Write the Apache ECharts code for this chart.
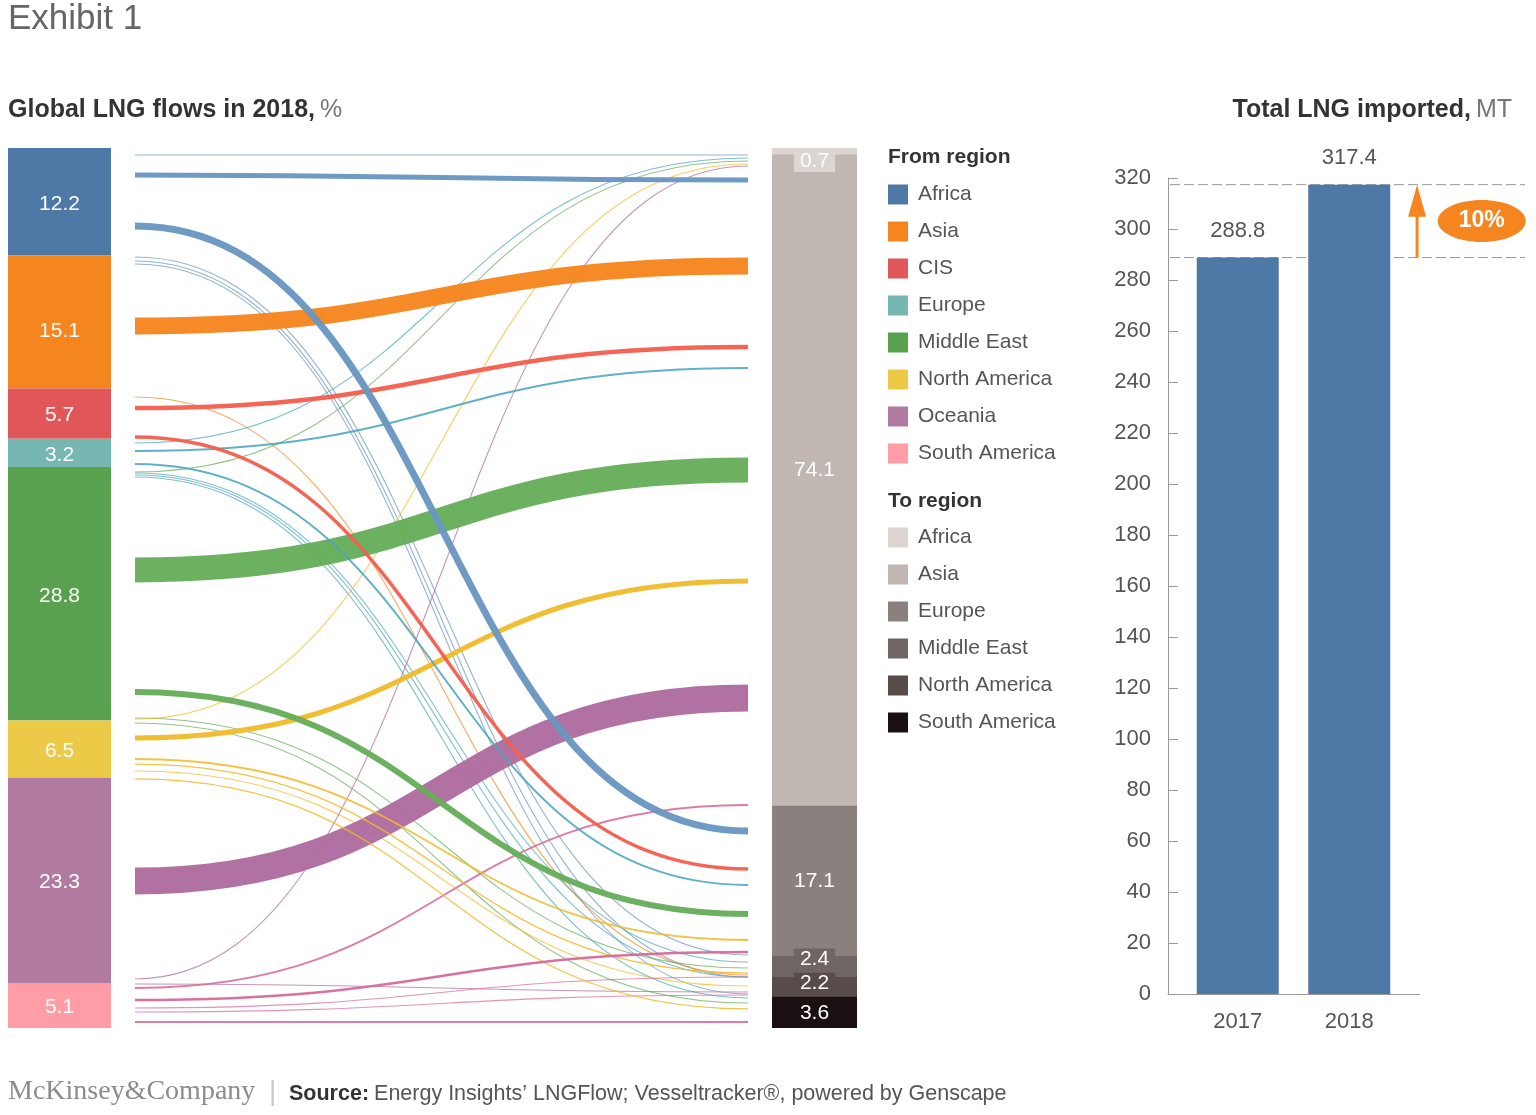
<!DOCTYPE html>
<html>
<head>
<meta charset="utf-8">
<script src="https://cdn.jsdelivr.net/npm/echarts@6/dist/echarts.min.js"></script>
<style>
html,body{margin:0;padding:0;background:#fff;}
#chart{width:1536px;height:1115px;}
</style>
</head>
<body>
<div id="chart"></div>
<script>
// ---------- DATA ----------
const fromRegions = ['Africa','Asia','CIS','Europe','Middle East','North America','Oceania','South America'];
const fromShares  = [12.2, 15.1, 5.7, 3.2, 28.8, 6.5, 23.3, 5.1];
const toRegions   = ['Africa','Asia','Europe','Middle East','North America','South America'];
const toShares    = [0.7, 74.1, 17.1, 2.4, 2.2, 3.6];

// flows: source index, destination index, share of global flow (%),
// attach position on the left / right stacked scale (0-100, from top)
const flowFrom     = [0,0,0,0,0,0, 1,1, 2,2, 3,3,3,3,3,3, 4,4,4,4,4, 5,5,5,5,5,5, 6,6,6, 7,7,7,7,7];
const flowTo       = [0,1,2,3,4,5, 1,3, 1,2, 0,1,2,3,4,5, 0,1,2,3,5, 0,1,2,3,4,5, 0,1,4, 1,2,3,4,5];
const flowValue    = [0.3,4.0,5.6,0.6,0.4,0.5, 13.5,0.5, 3.5,2.8, 0.3,1.6,1.6,0.4,0.3,0.3,
                      0.3,20.0,4.8,0.8,0.5, 0.3,4.0,1.5,1.0,0.8,1.0, 0.3,21.5,0.4, 1.5,2.0,0.6,0.9,1.5];
const flowStartPos = [0.8,3.07,8.86,12.39,12.84,13.18, 20.23,28.3, 29.55,32.84,
                      33.52,34.43,35.91,36.93,37.16,37.39,
                      36.82,47.95,61.82,64.77,65.34,
                      64.89,67.05,69.43,70.0,70.8,71.7,
                      94.43,83.3,95.0,
                      95.45,96.82,97.73,98.18,99.32];
const flowEndPos   = [0.8,3.64,77.61,91.7,94.2,96.14, 13.41,93.98, 22.61,81.93,
                      1.14,25.0,83.75,92.5,94.2,96.59,
                      1.48,36.59,87.05,93.18,97.16,
                      1.82,49.2,90.0,93.75,95.23,97.84,
                      2.05,62.5,95.91,
                      74.66,91.36,94.2,96.25,99.32];

const importYears  = ['2017','2018'];
const importTotals = [288.8, 317.4];

// ---------- STYLE ----------
const FONT = '"Liberation Sans", Arial, Helvetica, sans-serif';
const fromColors = ['#4e79a7','#f5861f','#e15759','#76b7b2','#59a14f','#edc948','#b07aa1','#ff9da7'];
const lineColors = ['#6a97c1','#f5861f','#f4604f','#4aa6bb','#66ae5a','#f1bb2b','#ae6c9f','#d86b9b'];
const toColors   = ['#dcd5d2','#c0b7b3','#8a817e','#6f6563','#574c49','#1a1012'];

const toLabelCfg = [
  {position:'insideTop', distance:2, backgroundColor:'#dcd5d2', padding:[1,6,0,6]},
  {position:'inside', offset:[0,-10]},
  {position:'inside'},
  {position:'inside', offset:[0,-7], backgroundColor:'#6f6563', padding:[1,6,0,6]},
  {position:'inside', offset:[0,-3], backgroundColor:'#574c49', padding:[1,6,0,6]},
  {position:'inside', offset:[0,1]}
];

// flow items; draw thin first, then Asia-bound, then other thick flows on top
const flowItems = flowFrom.map((f,i)=>[flowStartPos[i], flowEndPos[i], flowValue[i], f, flowTo[i]]);
const rank = it => (it[2] < 1 ? 0 : (it[4] === 1 ? 1 : 2));
flowItems.sort((a,b)=> rank(a)-rank(b));

const chart = echarts.init(document.getElementById('chart'));

const leftSeries = fromRegions.map((name,i)=>({
  type:'bar', name, xAxisIndex:0, yAxisIndex:0, stack:'from', barWidth:'100%',
  data:[fromShares[i]], itemStyle:{color:fromColors[i]}, silent:true,
  label:{show:true, position:'inside', offset: i===1?[0,9]:[0,2], color:'#fff', fontSize:21, fontFamily:FONT,
         formatter:p=>p.value.toFixed(1)}
}));
const rightSeries = toRegions.map((name,i)=>({
  type:'bar', name:'to:'+name, xAxisIndex:1, yAxisIndex:1, stack:'to', barWidth:'100%',
  data:[toShares[i]], itemStyle:{color:toColors[i]}, silent:true,
  label:Object.assign({show:true, color:'#fff', fontSize:21, fontFamily:FONT, formatter:p=>p.value.toFixed(1)}, toLabelCfg[i])
}));

const flowSeries = {
  type:'custom', name:'flows', xAxisIndex:2, yAxisIndex:2, silent:true, clip:false,
  data: flowItems,
  renderItem:(params, api)=>{
    const s = api.coord([0, api.value(0)]);
    const e = api.coord([1, api.value(1)]);
    const v = api.value(2), f = api.value(3);
    const mx = (s[0]+e[0])/2;
    return {
      type:'bezierCurve',
      shape:{x1:s[0], y1:s[1], x2:e[0], y2:e[1], cpx1:mx, cpy1:s[1], cpx2:mx, cpy2:e[1]},
      style:{stroke:lineColors[f], lineWidth:Math.max(1.1, v*1.25), fill:'none',
             opacity: v < 1 ? 0.72 : (v < 2 ? 0.88 : 0.97)}
    };
  }
};

const importSeries = {
  type:'bar', name:'Total LNG imported', xAxisIndex:3, yAxisIndex:3, barWidth:82, silent:true,
  data: importTotals, itemStyle:{color:'#4e79a7'},
  label:{show:true, position:'top', distance:16, fontSize:22, color:'#555', fontFamily:FONT,
         formatter:p=>p.value.toFixed(1)}
};

const growth = Math.round((importTotals[1]/importTotals[0]-1)*100) + '%';
const annotationSeries = {
  type:'custom', name:'growth', xAxisIndex:5, yAxisIndex:5, silent:true, clip:false,
  data:[[0.5, (importTotals[0]+importTotals[1])/2]],
  renderItem:(params, api)=>{
    const a = api.coord([0, importTotals[0]]), b = api.coord([1, importTotals[0]]);
    const c = api.coord([0, importTotals[1]]), d = api.coord([1, importTotals[1]]);
    const ax = api.coord([0.696, 0])[0];
    const yLow = a[1], yHigh = c[1];
    const el = api.coord([0.878, api.value(1)]);
    const dash = {stroke:'#9a9a9a', lineWidth:1, lineDash:[10,4]};
    return {type:'group', children:[
      {type:'line', shape:{x1:a[0], y1:a[1], x2:b[0], y2:b[1]}, style:dash},
      {type:'line', shape:{x1:c[0], y1:c[1], x2:d[0], y2:d[1]}, style:dash},
      {type:'line', shape:{x1:ax, y1:yLow, x2:ax, y2:yHigh+30}, style:{stroke:'#f5861f', lineWidth:3}},
      {type:'polygon', shape:{points:[[ax-9,yHigh+32],[ax+9,yHigh+32],[ax,yHigh]]}, style:{fill:'#f5861f'}},
      {type:'ellipse', shape:{cx:el[0], cy:el[1], rx:44, ry:21}, style:{fill:'#f5861f'}},
      {type:'text', x:el[0], y:el[1], style:{text:growth, fill:'#fff', font:'bold 23px '+FONT, align:'center', verticalAlign:'middle'}}
    ]};
  }
};

const hiddenVal = (min,max,extra)=>Object.assign({type:'value', min, max, show:false}, extra||{});
const richTitle = {
  b:{fontSize:25, fontWeight:'bold', color:'#333', fontFamily:FONT},
  n:{fontSize:25, fontWeight:'normal', color:'#777', fontFamily:FONT}
};

const option = {
  animation:false,
  textStyle:{fontFamily:FONT},
  title:[
    {text:'Exhibit 1', left:8, top:2, padding:0, textStyle:{fontSize:35, fontWeight:'normal', color:'#666', fontFamily:FONT}},
    {text:'{b|Global LNG flows in 2018,} {n|%}', left:8, top:98, padding:0,
     textStyle:{fontWeight:'normal', rich:richTitle}},
    {text:'{b|Total LNG imported,} {n|MT}', right:24, top:98, padding:0,
     textStyle:{fontWeight:'normal', rich:richTitle}},
    {text:'From region', left:888, top:147, padding:0, textStyle:{fontSize:21, fontWeight:'bold', color:'#333', fontFamily:FONT}},
    {text:'To region', left:888, top:491, padding:0, textStyle:{fontSize:21, fontWeight:'bold', color:'#333', fontFamily:FONT}},
    {text:'McKinsey&Company', left:8, top:1078, padding:0, textStyle:{fontSize:28, fontWeight:'normal', color:'#8c8c8c', fontFamily:'"Liberation Serif", "DejaVu Serif", serif'}},
    {text:'|', left:269, top:1078, padding:0, textStyle:{fontSize:28, fontWeight:'normal', color:'#c8c8c8', fontFamily:FONT}},
    {text:'{b|Source:} {n|Energy Insights\u2019 LNGFlow; Vesseltracker\u00ae, powered by Genscape}', left:289, top:1083, padding:0,
     textStyle:{fontWeight:'normal', rich:{b:{fontSize:21.5, fontWeight:'bold', color:'#333', fontFamily:FONT}, n:{fontSize:21.5, fontWeight:'normal', color:'#555', fontFamily:FONT}}}}
  ],
  legend:[
    {data:fromRegions, orient:'vertical', left:888, top:184, padding:0, itemWidth:20, itemHeight:20, itemGap:16,
     icon:'rect', selectedMode:false, textStyle:{fontSize:21, color:'#555', fontFamily:FONT, padding:[0,0,0,5]}},
    {data:toRegions.map(n=>'to:'+n), formatter:n=>n.slice(3), orient:'vertical', left:888, top:527, padding:0,
     itemWidth:20, itemHeight:20, itemGap:16, icon:'rect', selectedMode:false,
     textStyle:{fontSize:21, color:'#555', fontFamily:FONT, padding:[0,0,0,5]}}
  ],
  grid:[
    {left:8,    width:103, top:148, height:880},
    {left:772,  width:85,  top:148, height:880},
    {left:135,  width:613, top:148, height:880},
    {left:1182, width:223, top:178, height:816},
    {left:1168, width:252, top:178, height:816},
    {left:1170, width:355, top:178, height:816}
  ],
  xAxis:[
    {type:'category', gridIndex:0, data:['From'], show:false},
    {type:'category', gridIndex:1, data:['To'], show:false},
    hiddenVal(0,1,{gridIndex:2}),
    {type:'category', gridIndex:3, data:importYears,
     axisLine:{show:false}, axisTick:{show:false},
     axisLabel:{margin:17, fontSize:22, color:'#555', fontFamily:FONT}},
    {type:'value', gridIndex:4, min:0, max:1, axisLine:{show:true, lineStyle:{color:'#999', width:1}},
     axisTick:{show:false}, axisLabel:{show:false}, splitLine:{show:false}},
    hiddenVal(0,1,{gridIndex:5})
  ],
  yAxis:[
    hiddenVal(0,99.9,{gridIndex:0, inverse:true}),
    hiddenVal(0,100.1,{gridIndex:1, inverse:true}),
    hiddenVal(0,100,{gridIndex:2, inverse:true}),
    {type:'value', gridIndex:3, min:0, max:320, interval:20, offset:14,
     axisLine:{show:true, lineStyle:{color:'#999', width:1}},
     axisTick:{show:true, inside:true, length:10, lineStyle:{color:'#999'}},
     axisLabel:{margin:17, fontSize:22, color:'#555', fontFamily:FONT},
     splitLine:{show:false}},
    hiddenVal(0,320,{gridIndex:4}),
    hiddenVal(0,320,{gridIndex:5})
  ],
  series:[...leftSeries, ...rightSeries, flowSeries, importSeries, annotationSeries]
};
chart.setOption(option);
</script>
</body>
</html>
